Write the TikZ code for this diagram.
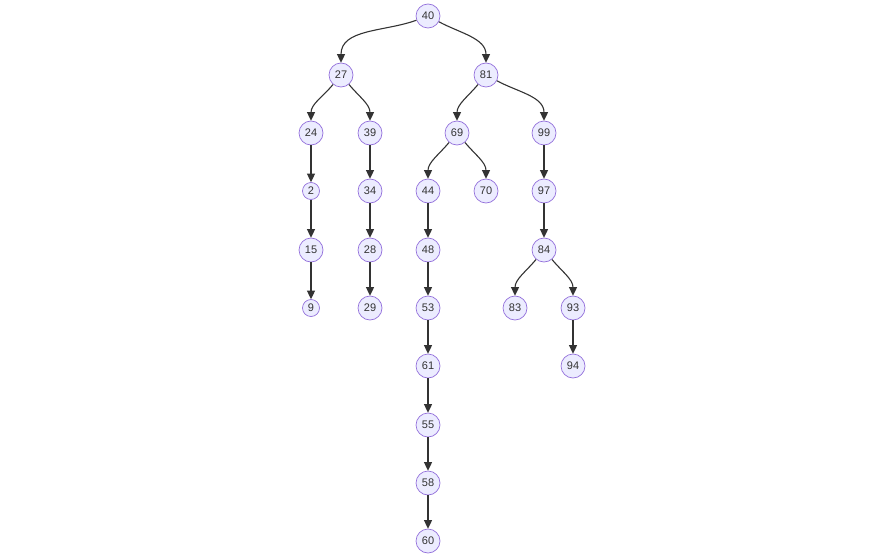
\documentclass[tikz,border=0pt]{standalone}
\usepackage{fontspec}
\setmainfont{Liberation Sans}
\usetikzlibrary{arrows.meta}
\definecolor{nfill}{HTML}{ECECFF}
\definecolor{nline}{HTML}{9370DB}
\definecolor{ecol}{HTML}{333333}
\begin{document}
\begin{tikzpicture}[x=1pt,y=1pt,
  nd/.style={circle,draw=nline,fill=nfill,line width=0.7pt,minimum size=24pt,inner sep=0pt,text=ecol,font=\fontsize{11}{13}\selectfont},
  sm/.style={nd,minimum size=17pt},
  edge/.style={draw=ecol,line width=1.1pt,-{Triangle[length=8.5pt,width=8pt]}}]
\useasboundingbox (0,0) rectangle (885,-559);
\node[nd] (n40) at (428,-16) {40};
\node[nd] (n27) at (341,-75) {27};
\node[nd] (n81) at (486,-75) {81};
\node[nd] (n24) at (311,-133) {24};
\node[nd] (n39) at (370,-133) {39};
\node[nd] (n69) at (457,-133) {69};
\node[nd] (n99) at (544,-133) {99};
\node[sm] (n2) at (311,-191) {2};
\node[nd] (n34) at (370,-191) {34};
\node[nd] (n44) at (428,-191) {44};
\node[nd] (n70) at (486,-191) {70};
\node[nd] (n97) at (544,-191) {97};
\node[nd] (n15) at (311,-250) {15};
\node[nd] (n28) at (370,-250) {28};
\node[nd] (n48) at (428,-250) {48};
\node[nd] (n84) at (544,-250) {84};
\node[sm] (n9) at (311,-308) {9};
\node[nd] (n29) at (370,-308) {29};
\node[nd] (n53) at (428,-308) {53};
\node[nd] (n83) at (515,-308) {83};
\node[nd] (n93) at (573,-308) {93};
\node[nd] (n61) at (428,-366) {61};
\node[nd] (n94) at (573,-366) {94};
\node[nd] (n55) at (428,-425) {55};
\node[nd] (n58) at (428,-483) {58};
\node[nd] (n60) at (428,-541) {60};
\path[edge] (n40) to[out=200,in=90] (n27);
\path[edge] (n40) to[out=-28,in=90] (n81);
\path[edge] (n27) to[out=-130,in=90] (n24);
\path[edge] (n27) to[out=-50,in=90] (n39);
\path[edge] (n81) to[out=-130,in=90] (n69);
\path[edge] (n81) to[out=-28,in=90] (n99);
\path[edge] (n69) to[out=-130,in=90] (n44);
\path[edge] (n69) to[out=-50,in=90] (n70);
\path[edge] (n84) to[out=-130,in=90] (n83);
\path[edge] (n84) to[out=-50,in=90] (n93);
\path[edge] (n24) -- (n2);
\path[edge] (n2) -- (n15);
\path[edge] (n15) -- (n9);
\path[edge] (n39) -- (n34);
\path[edge] (n34) -- (n28);
\path[edge] (n28) -- (n29);
\path[edge] (n99) -- (n97);
\path[edge] (n97) -- (n84);
\path[edge] (n93) -- (n94);
\path[edge] (n44) -- (n48);
\path[edge] (n48) -- (n53);
\path[edge] (n53) -- (n61);
\path[edge] (n61) -- (n55);
\path[edge] (n55) -- (n58);
\path[edge] (n58) -- (n60);
\end{tikzpicture}
\end{document}
